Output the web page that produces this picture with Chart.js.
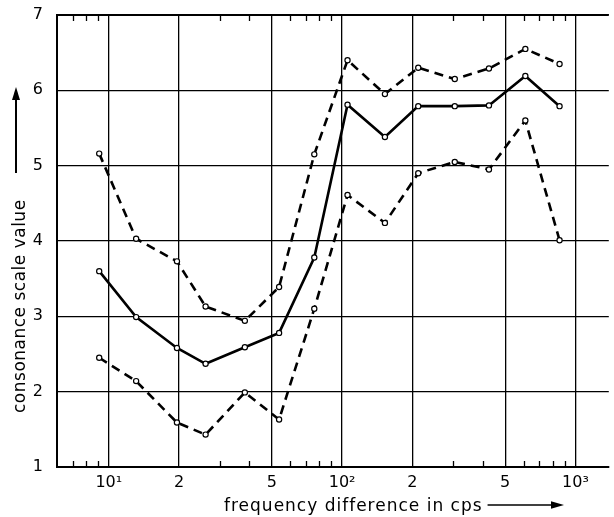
<!DOCTYPE html>
<html>
<head>
<meta charset="utf-8">
<script src="https://cdn.jsdelivr.net/npm/chart.js@4.4.0/dist/chart.umd.min.js"></script>
<style>
html,body{margin:0;padding:0;background:#fff;}
canvas{display:block;}
</style>
</head>
<body>
<canvas id="c" width="614" height="517"></canvas>
<script>
// ---- data ----
const freqs        = [9.1, 13.1, 19.6, 26, 38.3, 53.7, 76, 105.5, 152.6, 212, 304, 426, 610, 855];
const upperValues  = [5.16, 4.03, 3.73, 3.13, 2.94, 3.39, 5.15, 6.40, 5.95, 6.30, 6.15, 6.29, 6.55, 6.35];
const meanValues   = [3.60, 2.99, 2.58, 2.37, 2.59, 2.78, 3.78, 5.81, 5.38, 5.79, 5.79, 5.80, 6.19, 5.79];
const lowerValues  = [2.45, 2.14, 1.59, 1.43, 1.99, 1.63, 3.10, 4.61, 4.24, 4.90, 5.05, 4.95, 5.60, 4.01];
const xTickValues  = [10, 20, 50, 100, 200, 500, 1000];
const xTickLabels  = ['10\u00B9', '2', '5', '10\u00B2', '2', '5', '10\u00B3'];
const xMinorTicks  = [7, 8, 9, 30, 40, 60, 70, 80, 90, 300, 400, 600, 700, 800, 900];
const yTickValues  = [1, 2, 3, 4, 5, 6, 7];
const xTitle = 'frequency difference in cps';
const yTitle = 'consonance scale value';

const toPoints = vals => vals.map((v, i) => ({x: freqs[i], y: v}));

Chart.defaults.font.family = "'DejaVu Sans', sans-serif";
Chart.defaults.font.size = 16;
Chart.defaults.color = '#000';

const common = {
  borderColor: '#000',
  borderWidth: 2.6,
  pointRadius: 2.6,
  pointBackgroundColor: '#fff',
  pointBorderColor: '#000',
  pointBorderWidth: 1.2,
  tension: 0,
  fill: false
};

const decor = {
  id: 'decor',
  afterDraw(chart) {
    const {ctx, chartArea: a, scales: {x}} = chart;
    ctx.save();
    ctx.strokeStyle = '#000';
    ctx.fillStyle = '#000';
    // top frame line
    ctx.lineWidth = 2;
    ctx.beginPath(); ctx.moveTo(a.left, a.top); ctx.lineTo(a.right, a.top); ctx.stroke();
    // inward minor ticks on top and bottom
    ctx.lineWidth = 1.3;
    ctx.beginPath();
    xMinorTicks.forEach(v => {
      const px = Math.round(x.getPixelForValue(v)) + 0.5;
      ctx.moveTo(px, a.bottom); ctx.lineTo(px, a.bottom - 6);
      ctx.moveTo(px, a.top); ctx.lineTo(px, a.top + 6);
    });
    ctx.stroke();

    // x title with arrow
    ctx.font = "17px 'DejaVu Sans'";
    ctx.letterSpacing = '1px';
    ctx.textAlign = 'left';
    ctx.textBaseline = 'alphabetic';
    const tx = 224, ty = 511;
    ctx.fillText(xTitle, tx, ty);
    const tw = ctx.measureText(xTitle).width;
    const ay = 505, ax0 = tx + tw + 5, ax1 = 564;
    ctx.lineWidth = 1.4;
    ctx.beginPath(); ctx.moveTo(ax0, ay); ctx.lineTo(ax1 - 10, ay); ctx.stroke();
    ctx.beginPath(); ctx.moveTo(ax1, ay); ctx.lineTo(ax1 - 13, ay - 3.8); ctx.lineTo(ax1 - 13, ay + 3.8); ctx.closePath(); ctx.fill();

    // y title rotated with arrow
    ctx.save();
    ctx.letterSpacing = '0.5px';
    ctx.translate(25, 413);
    ctx.rotate(-Math.PI / 2);
    ctx.fillText(yTitle, 0, 0);
    ctx.restore();
    const vx = 16, vy0 = 173, vy1 = 87;
    ctx.lineWidth = 2;
    ctx.beginPath(); ctx.moveTo(vx, vy0); ctx.lineTo(vx, vy1 + 10); ctx.stroke();
    ctx.beginPath(); ctx.moveTo(vx, vy1); ctx.lineTo(vx - 4, vy1 + 13); ctx.lineTo(vx + 4, vy1 + 13); ctx.closePath(); ctx.fill();
    ctx.restore();
  }
};

new Chart(document.getElementById('c'), {
  type: 'line',
  data: {
    datasets: [
      Object.assign({label: 'upper', data: toPoints(upperValues), borderDash: [9, 6]}, common),
      Object.assign({label: 'mean', data: toPoints(meanValues)}, common),
      Object.assign({label: 'lower', data: toPoints(lowerValues), borderDash: [9, 6]}, common)
    ]
  },
  options: {
    responsive: false,
    animation: false,
    devicePixelRatio: 1,
    layout: {padding: {top: 15, right: 0, bottom: 0, left: 0}},
    plugins: {legend: {display: false}, tooltip: {enabled: false}, title: {display: false}},
    scales: {
      x: {
        type: 'logarithmic',
        min: 6,
        max: 1390,
        afterBuildTicks: s => { s.ticks = xTickValues.map(v => ({value: v})); },
        afterFit: s => { s.height = 50; s.paddingLeft = 0; s.paddingRight = 0; },
        ticks: {
          autoSkip: false,
          maxRotation: 0,
          padding: 6,
          font: {size: 16},
          callback: (v) => { const i = xTickValues.indexOf(v); return i >= 0 ? xTickLabels[i] : ''; }
        },
        grid: {color: '#000', lineWidth: 1.3, drawTicks: false},
        border: {display: true, color: '#000', width: 2}
      },
      y: {
        min: 1,
        max: 7,
        afterBuildTicks: s => { s.ticks = yTickValues.map(v => ({value: v})); },
        afterFit: s => { s.width = 57; s.paddingTop = 0; s.paddingBottom = 0; },
        ticks: {padding: 14, font: {size: 16}},
        grid: {color: '#000', lineWidth: 1.3, drawTicks: false},
        border: {display: true, color: '#000', width: 2}
      }
    }
  },
  plugins: [decor]
});
</script>
</body>
</html>
